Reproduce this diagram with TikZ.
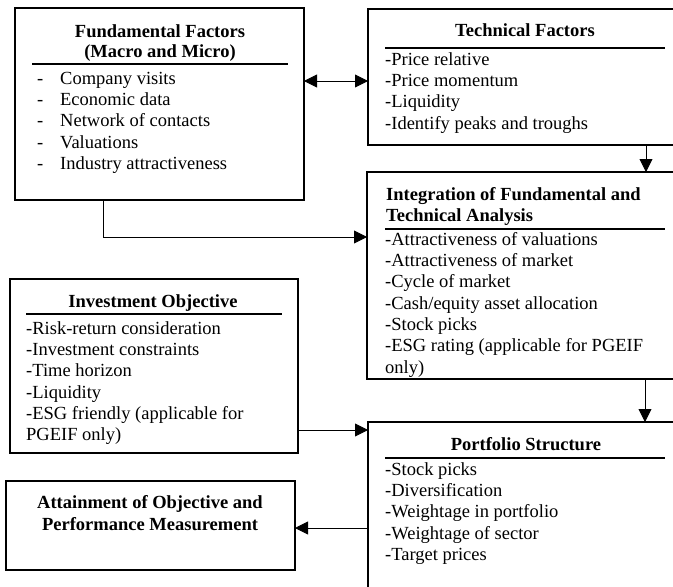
\documentclass[tikz,border=0pt]{standalone}
\usepackage{fontspec}
\setmainfont{Liberation Serif}
\usetikzlibrary{arrows.meta}
\newcommand\toprl{\rule{0pt}{13pt}}
\begin{document}
\begin{tikzpicture}[x=1pt,y=-1pt,
  box/.style={draw, line width=1.6pt, rectangle, inner sep=0pt, outer sep=0pt, anchor=north west},
  rulel/.style={line width=1.3pt},
  conn/.style={line width=0.9pt, -{Triangle[length=13pt,width=13pt]}},
  dblconn/.style={line width=0.9pt, {Triangle[length=13pt,width=13pt]}-{Triangle[length=13pt,width=13pt]}},
  txt/.style={inner sep=0pt, anchor=north west, align=left, font=\fontsize{18.5}{21.3}\selectfont},
  hdr/.style={inner sep=0pt, anchor=north, align=center, font=\fontsize{18.5}{20.5}\selectfont\bfseries},
  hdrl/.style={inner sep=0pt, anchor=north west, align=left, font=\fontsize{18.5}{21}\selectfont\bfseries}]
\clip (0,0) rectangle (673,587);
\fill[white] (0,0) rectangle (673,587);
% boxes
\node[box, minimum width=289pt, minimum height=192pt] (fund) at (15,8) {};
\node[box, minimum width=330pt, minimum height=136pt] (tech) at (368,9) {};
\node[box, minimum width=330pt, minimum height=207pt] (integ) at (367,172) {};
\node[box, minimum width=288pt, minimum height=174pt] (invest) at (10,279) {};
\node[box, minimum width=330pt, minimum height=200pt] (port) at (368,422) {};
\node[box, minimum width=289pt, minimum height=89pt] (attain) at (6,481) {};
% header rules
\draw[rulel] (32,64) -- (288,64);
\draw[rulel] (385,48) -- (665,48);
\draw[rulel] (385,229) -- (665,229);
\draw[rulel] (26,314) -- (282,314);
\draw[rulel] (385,458) -- (665,458);
% texts
\node[hdr] (fundh) at (160,24) {\toprl Fundamental Factors\\(Macro and Micro)};
\node[txt] (fundt) at (37,71) {\toprl\makebox[23pt][l]{-}Company visits\\
\makebox[23pt][l]{-}Economic data\\
\makebox[23pt][l]{-}Network of contacts\\
\makebox[23pt][l]{-}Valuations\\
\makebox[23pt][l]{-}Industry attractiveness};
\node[hdr] (techh) at (525,23) {\toprl Technical Factors};
\node[txt] (techt) at (385,52) {\toprl -Price relative\\-Price momentum\\-Liquidity\\-Identify peaks and troughs};
\node[hdrl] (integh) at (386,187) {\toprl Integration of Fundamental and\\Technical Analysis};
\node[txt] (integt) at (385,232) {\toprl -Attractiveness of valuations\\-Attractiveness of market\\-Cycle of market\\-Cash/equity asset allocation\\-Stock picks\\-ESG rating (applicable for PGEIF\\only)};
\node[hdr] (investh) at (153,294) {\toprl Investment Objective};
\node[txt] (investt) at (26,321) {\toprl -Risk-return consideration\\-Investment constraints\\-Time horizon\\-Liquidity\\-ESG friendly (applicable for\\PGEIF only)};
\node[hdr] (porth) at (526,437) {\toprl Portfolio Structure};
\node[txt] (portt) at (385,462) {\toprl -Stock picks\\-Diversification\\-Weightage in portfolio\\-Weightage of sector\\-Target prices};
\node[hdr, font=\fontsize{18.5}{22}\selectfont\bfseries] (attainh) at (150,495) {\toprl Attainment of Objective and\\Performance Measurement};
% connectors
\coordinate (f1) at ([yshift=-73pt]fund.north east);
\draw[dblconn] (f1) -- (f1 -| tech.west);
\coordinate (f2) at ([xshift=88pt]fund.south west);
\coordinate (g0) at ([yshift=-65pt]integ.north west);
\draw[conn] (f2) |- (g0);
\coordinate (t1) at ([xshift=278pt]tech.south west);
\draw[conn] (t1) -- (t1 |- integ.north);
\coordinate (i1) at ([yshift=-151pt]invest.north east);
\draw[conn] (i1) -- (i1 -| port.west);
\coordinate (g1) at ([xshift=278pt]integ.south west);
\draw[conn] (g1) -- (g1 |- port.north);
\coordinate (p1) at ([yshift=-106pt]port.north west);
\draw[conn] (p1) -- (p1 -| attain.east);
\end{tikzpicture}
\end{document}
